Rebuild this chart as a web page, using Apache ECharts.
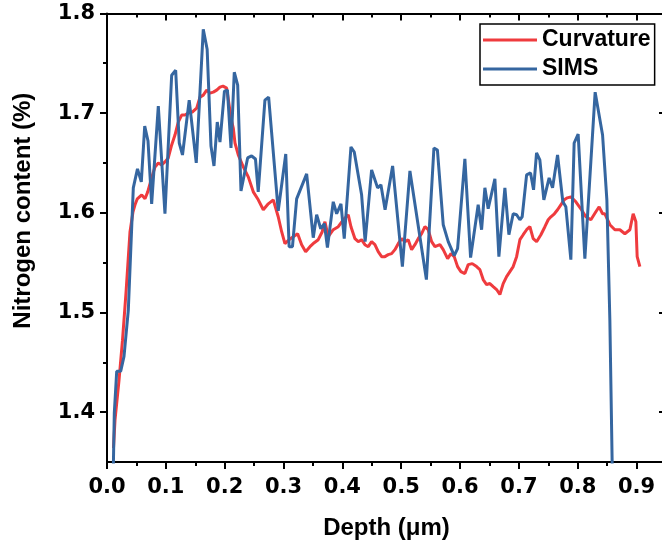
<!DOCTYPE html>
<html><head><meta charset="utf-8">
<script src="https://cdn.jsdelivr.net/npm/echarts@6/dist/echarts.min.js"></script>
<style>html,body{margin:0;padding:0;background:#fff}#c{width:662px;height:546px}</style>
</head><body><div id="c"></div>
<script>
const xTicks=[0,0.1,0.2,0.3,0.4,0.5,0.6,0.7,0.8,0.9];
const xMinorTicks=[0.05,0.15,0.25,0.35,0.45,0.55,0.65,0.75,0.85];
const yTicks=[1.4,1.5,1.6,1.7,1.8];
const yMinorTicks=[1.45,1.55,1.65,1.75];
const seriesNames=['Curvature','SIMS'];
const curvX=[0.0110,0.0136,0.0204,0.0263,0.0323,0.0391,0.0442,0.0476,0.0515,0.0590,0.0646,0.0692,0.0759,0.0816,0.0872,0.0929,0.0985,0.1041,0.1099,0.1155,0.1211,0.1269,0.1325,0.1381,0.1449,0.1524,0.1580,0.1636,0.1694,0.1750,0.1806,0.1864,0.1920,0.1971,0.2034,0.2107,0.2146,0.2175,0.2231,0.2316,0.2401,0.2486,0.2571,0.2656,0.2741,0.2826,0.2910,0.2968,0.3024,0.3092,0.3165,0.3240,0.3308,0.3376,0.3449,0.3522,0.3590,0.3658,0.3704,0.3760,0.3845,0.3930,0.4015,0.4100,0.4146,0.4214,0.4270,0.4327,0.4383,0.4440,0.4497,0.4553,0.4609,0.4667,0.4723,0.4779,0.4837,0.4893,0.4949,0.5007,0.5063,0.5119,0.5177,0.5233,0.5289,0.5347,0.5403,0.5459,0.5517,0.5573,0.5658,0.5714,0.5789,0.5845,0.5901,0.5958,0.6014,0.6082,0.6139,0.6207,0.6281,0.6337,0.6393,0.6451,0.6507,0.6563,0.6621,0.6677,0.6733,0.6791,0.6847,0.6903,0.6961,0.7017,0.7073,0.7131,0.7187,0.7243,0.7301,0.7374,0.7442,0.7498,0.7544,0.7603,0.7657,0.7713,0.7770,0.7824,0.7883,0.7968,0.8053,0.8138,0.8223,0.8308,0.8364,0.8422,0.8461,0.8546,0.8631,0.8716,0.8801,0.8886,0.8942,0.8988,0.9010,0.9056];
const curvY=[1.364,1.392,1.432,1.472,1.520,1.581,1.601,1.608,1.614,1.618,1.614,1.621,1.635,1.646,1.650,1.648,1.651,1.655,1.668,1.678,1.691,1.698,1.698,1.700,1.701,1.705,1.716,1.718,1.723,1.720,1.721,1.723,1.726,1.727,1.725,1.695,1.685,1.670,1.658,1.646,1.636,1.621,1.613,1.603,1.609,1.613,1.596,1.581,1.569,1.573,1.576,1.579,1.568,1.561,1.566,1.570,1.573,1.581,1.591,1.576,1.583,1.586,1.593,1.598,1.586,1.574,1.571,1.573,1.568,1.566,1.571,1.568,1.561,1.556,1.556,1.558,1.559,1.563,1.569,1.574,1.571,1.573,1.563,1.568,1.574,1.579,1.586,1.583,1.571,1.566,1.568,1.563,1.554,1.559,1.556,1.546,1.541,1.539,1.548,1.549,1.546,1.543,1.533,1.528,1.529,1.526,1.523,1.518,1.529,1.536,1.541,1.546,1.556,1.573,1.578,1.583,1.586,1.574,1.571,1.578,1.586,1.593,1.596,1.599,1.603,1.608,1.613,1.615,1.616,1.611,1.604,1.596,1.593,1.601,1.606,1.599,1.599,1.588,1.583,1.583,1.579,1.583,1.599,1.591,1.556,1.546];
const simsX=[0.0107,0.0124,0.0165,0.0233,0.0289,0.0362,0.0447,0.0518,0.0583,0.0641,0.0697,0.0759,0.0872,0.0985,0.1099,0.1167,0.1228,0.1283,0.1397,0.1517,0.1636,0.1702,0.1767,0.1818,0.1874,0.1920,0.1996,0.2047,0.2107,0.2163,0.2221,0.2277,0.2390,0.2458,0.2523,0.2570,0.2684,0.2747,0.2910,0.3038,0.3095,0.3152,0.3223,0.3393,0.3505,0.3563,0.3632,0.3695,0.3746,0.3845,0.3903,0.3976,0.4032,0.4146,0.4202,0.4327,0.4387,0.4497,0.4599,0.4655,0.4726,0.4854,0.5020,0.5148,0.5428,0.5556,0.5615,0.5714,0.5799,0.5901,0.5958,0.6082,0.6179,0.6308,0.6366,0.6422,0.6478,0.6592,0.6660,0.6762,0.6830,0.6903,0.6961,0.7017,0.7056,0.7131,0.7198,0.7249,0.7300,0.7356,0.7424,0.7514,0.7572,0.7657,0.7747,0.7798,0.7883,0.7939,0.8007,0.8121,0.8296,0.8422,0.8495,0.8546,0.8585,0.8597];
const simsY=[1.342,1.399,1.441,1.441,1.456,1.502,1.625,1.644,1.631,1.687,1.672,1.609,1.707,1.599,1.738,1.743,1.670,1.658,1.713,1.650,1.784,1.764,1.667,1.647,1.691,1.671,1.722,1.723,1.665,1.741,1.728,1.622,1.655,1.657,1.654,1.621,1.713,1.716,1.602,1.659,1.566,1.566,1.614,1.639,1.575,1.598,1.584,1.589,1.565,1.611,1.599,1.609,1.574,1.666,1.661,1.618,1.571,1.643,1.625,1.628,1.603,1.647,1.546,1.642,1.533,1.665,1.663,1.588,1.571,1.557,1.564,1.654,1.555,1.608,1.583,1.625,1.604,1.634,1.556,1.625,1.578,1.599,1.598,1.593,1.596,1.638,1.640,1.623,1.660,1.653,1.613,1.635,1.625,1.658,1.611,1.606,1.553,1.670,1.679,1.554,1.721,1.678,1.613,1.492,1.350,1.292];

const RED='#ef3b3e', BLUE='#3566a0', BLACK='#000';
const XMIN=0, XMAX=0.95, YMIN=1.35, YMAX=1.8;
const lineSt={color:BLACK,width:2};
const tickFont={fontFamily:'DejaVu Sans',fontWeight:'bold',fontSize:21,color:BLACK};
const titleFont={fontFamily:'Liberation Sans',fontWeight:'bold',fontSize:24,color:BLACK};

function axis(pos, min, max, major, ticks, len, inside, extra){
  return Object.assign({
    type:'value', position:pos, min:min, max:max,
    axisLine:{show:major, onZero:false, lineStyle:lineSt},
    axisTick:{show:true, inside:inside, length:len, lineStyle:lineSt, customValues:ticks},
    axisLabel:{show:false},
    splitLine:{show:false}, minorTick:{show:false}
  }, extra||{});
}

const xAxes=[
  axis('bottom',XMIN,XMAX,true,xTicks,7,false,{
    axisLabel:Object.assign({show:true,customValues:xTicks,margin:15,formatter:v=>v.toFixed(1)},tickFont),
    name:'Depth (μm)', nameLocation:'middle', nameGap:54, nameTextStyle:titleFont
  }),
  axis('bottom',XMIN,XMAX,false,xMinorTicks,4,false),
  axis('top',XMIN,XMAX,true,xTicks,7,true),
  axis('top',XMIN,XMAX,false,xMinorTicks,4,true)
];
const yAxes=[
  axis('left',YMIN,YMAX,true,yTicks,7,false,{
    axisLabel:Object.assign({show:true,customValues:yTicks,margin:12,formatter:v=>v.toFixed(1)},tickFont),
    name:'Nitrogen content (%)', nameLocation:'middle', nameGap:72, nameRotate:90,
    nameTextStyle:Object.assign({padding:[0,0,0,54]},titleFont)
  }),
  axis('left',YMIN,YMAX,false,yMinorTicks,4,false),
  axis('right',YMIN,YMAX,true,yTicks,7,true),
  axis('right',YMIN,YMAX,false,yMinorTicks,4,true)
];

const chart=echarts.init(document.getElementById('c'),null,{renderer:'canvas'});
chart.setOption({
  animation:false,
  backgroundColor:'#fff',
  grid:{left:107, top:13.4, right:-4, bottom:84, containLabel:false, outerBoundsMode:'none'},
  xAxis:xAxes,
  yAxis:yAxes,
  legend:{
    orient:'vertical', left:480, top:24, data:seriesNames,
    icon:'rect', itemWidth:54, itemHeight:3, itemGap:3, padding:[3,4,3,3],
    borderColor:BLACK, borderWidth:1.5, borderRadius:0, backgroundColor:'#fff',
    textStyle:{fontFamily:'Liberation Sans',fontWeight:'bold',fontSize:23,color:BLACK,lineHeight:26}
  },
  series:[
    {name:seriesNames[0], type:'line', xAxisIndex:0, yAxisIndex:0, symbol:'none', showSymbol:false,
     data:curvX.map((x,i)=>[x,curvY[i]]), lineStyle:{color:RED,width:3}, itemStyle:{color:RED}, z:2},
    {name:seriesNames[1], type:'line', xAxisIndex:0, yAxisIndex:0, symbol:'none', showSymbol:false,
     data:simsX.map((x,i)=>[x,simsY[i]]), lineStyle:{color:BLUE,width:3}, itemStyle:{color:BLUE}, z:3}
  ]
});
</script></body></html>
